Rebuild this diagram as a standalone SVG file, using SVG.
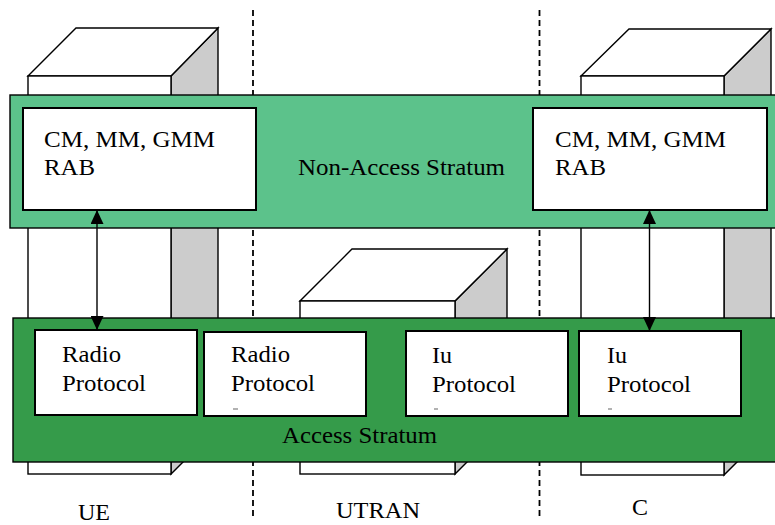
<svg xmlns="http://www.w3.org/2000/svg" width="775" height="525" viewBox="0 0 775 525">
<defs>
<style>
.front{fill:#fff;stroke:#000;stroke-width:1.4}
.side{fill:#ccc;stroke:#000;stroke-width:1.4}
.band{stroke:#000;stroke-width:1.4}
.nas{fill:#5cc28b}
.as{fill:#359b4a}
.box{fill:#fff;stroke:#000;stroke-width:2}
.div{stroke:#000;stroke-width:1.8;stroke-dasharray:6 4;fill:none}
.t{font-family:'Liberation Serif','Tinos','DejaVu Serif',serif;font-size:24px;fill:#000}
.conn{stroke:#000;stroke-width:1.4;fill:none}
.mark{stroke:#999;stroke-width:1.5}
</style>
<marker id="ah" viewBox="0 0 14 13" refX="14" refY="6.5" markerWidth="14" markerHeight="13" markerUnits="userSpaceOnUse" orient="auto">
<path d="M0,0 L14,6.5 L0,13 z" fill="#000"/>
</marker>
</defs>
<rect width="775" height="525" fill="#fff"/>
<g id="dividers">
<line class="div" x1="253" y1="10" x2="253" y2="518"/>
<line class="div" x1="539.5" y1="10" x2="539.5" y2="518"/>
</g>
<g id="cube-ue">
<polygon class="side" points="171,76 218,28 218,427 171,474"/>
<polygon class="front" points="28,76 76,28 218,28 171,76"/>
<rect class="front" x="28" y="76" width="143" height="398"/>
</g>
<g id="cube-utran">
<polygon class="side" points="455,301 507,249 507,422 455,474"/>
<polygon class="front" points="300,301 352,249 507,249 455,301"/>
<rect class="front" x="300" y="301" width="155" height="173"/>
</g>
<g id="cube-c">
<polygon class="side" points="724,76 771,29 771,428 724,475"/>
<polygon class="front" points="581,76 629,29 771,29 724,76"/>
<rect class="front" x="581" y="76" width="143" height="399"/>
</g>
<g id="nas-band">
<rect class="band nas" x="10" y="95" width="770" height="133"/>
<text class="t" x="298" y="175" textLength="207" lengthAdjust="spacingAndGlyphs">Non-Access Stratum</text>
</g>
<g id="nas-ue">
<rect class="box" x="23" y="108" width="233" height="102"/>
<text class="t" x="44" y="147" textLength="171" lengthAdjust="spacingAndGlyphs">CM, MM, GMM</text>
<text class="t" x="44" y="175" textLength="51" lengthAdjust="spacingAndGlyphs">RAB</text>
</g>
<g id="nas-c">
<rect class="box" x="533" y="108" width="234" height="102"/>
<text class="t" x="555" y="147" textLength="171" lengthAdjust="spacingAndGlyphs">CM, MM, GMM</text>
<text class="t" x="555" y="175" textLength="51" lengthAdjust="spacingAndGlyphs">RAB</text>
</g>
<g id="as-band">
<rect class="band as" x="13" y="318" width="770" height="144"/>
<text class="t" x="282" y="443" textLength="155" lengthAdjust="spacingAndGlyphs">Access Stratum</text>
</g>
<g id="as-ue-radio">
<rect class="box" x="35" y="330" width="162" height="85"/>
<text class="t" x="62" y="362" textLength="59" lengthAdjust="spacingAndGlyphs">Radio</text>
<text class="t" x="62" y="391" textLength="84" lengthAdjust="spacingAndGlyphs">Protocol</text>
</g>
<g id="as-utran-radio">
<rect class="box" x="204" y="332" width="162" height="84"/>
<text class="t" x="231" y="362" textLength="59" lengthAdjust="spacingAndGlyphs">Radio</text>
<text class="t" x="231" y="391" textLength="84" lengthAdjust="spacingAndGlyphs">Protocol</text>
<line class="mark" x1="233" y1="409" x2="238" y2="409"/>
</g>
<g id="as-utran-iu">
<rect class="box" x="406" y="331" width="162" height="85"/>
<text class="t" x="432" y="363" textLength="20" lengthAdjust="spacingAndGlyphs">Iu</text>
<text class="t" x="432" y="392" textLength="84" lengthAdjust="spacingAndGlyphs">Protocol</text>
<line class="mark" x1="434" y1="409" x2="438" y2="409"/>
</g>
<g id="as-c-iu">
<rect class="box" x="579" y="331" width="162" height="85"/>
<text class="t" x="607" y="363" textLength="20" lengthAdjust="spacingAndGlyphs">Iu</text>
<text class="t" x="607" y="392" textLength="84" lengthAdjust="spacingAndGlyphs">Protocol</text>
<line class="mark" x1="608" y1="409" x2="612" y2="409"/>
</g>
<g id="connectors">
<line class="conn" x1="97" y1="270" x2="97" y2="210" marker-end="url(#ah)"/>
<line class="conn" x1="97" y1="270" x2="97" y2="330" marker-end="url(#ah)"/>
<line class="conn" x1="649.5" y1="270" x2="649.5" y2="210" marker-end="url(#ah)"/>
<line class="conn" x1="649.5" y1="270" x2="649.5" y2="331" marker-end="url(#ah)"/>
</g>
<g id="labels">
<text class="t" x="78" y="520" textLength="32" lengthAdjust="spacingAndGlyphs">UE</text>
<text class="t" x="336" y="518" textLength="84" lengthAdjust="spacingAndGlyphs">UTRAN</text>
<text class="t" x="632" y="515" textLength="16" lengthAdjust="spacingAndGlyphs">C</text>
</g>
</svg>
